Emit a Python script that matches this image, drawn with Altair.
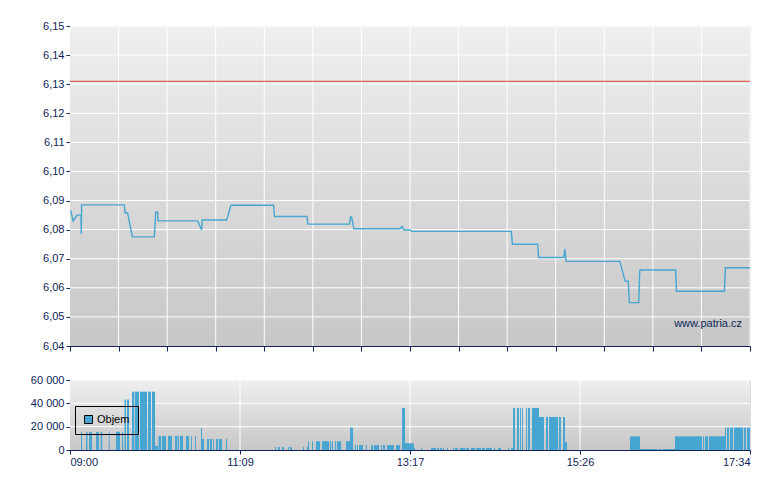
import altair as alt
import pandas as pd

NAVY = "#0f2557"
BLUE = "#47a6d1"
FONT = "Liberation Sans"

# ---- price line (minutes after 09:00, price) ----
line_min = [0, 0.6, 2.4, 5.3, 8.3, 8.5, 8.8, 41.0, 41.6, 43.6, 47.1, 63.7, 64.8, 66.3, 66.5,
            96.5, 99.5, 99.9, 118.4, 121.7, 153.9, 154.6, 179.1, 179.8, 211.3, 212.0, 212.8,
            214.6, 249.5, 251.0, 252.5, 257.0, 258.5, 333.6, 334.4, 353.5, 354.2, 373.3, 374.0,
            375.0, 415.6, 419.6, 422.0, 422.8, 429.9, 430.7, 457.8, 458.4, 494.6, 495.4, 514]
line_price = [6.0864, 6.0864, 6.0830, 6.0850, 6.0850, 6.0785, 6.0885, 6.0885, 6.0857, 6.0857,
              6.0775, 6.0775, 6.0860, 6.0860, 6.0830, 6.0830, 6.0799, 6.0833, 6.0833, 6.0884,
              6.0884, 6.0845, 6.0845, 6.0819, 6.0819, 6.0844, 6.0844, 6.0803, 6.0803, 6.0811,
              6.0799, 6.0799, 6.0794, 6.0794, 6.0750, 6.0750, 6.0704, 6.0704, 6.0734, 6.0691,
              6.0691, 6.0623, 6.0623, 6.0549, 6.0549, 6.0661, 6.0661, 6.0588, 6.0588, 6.0669,
              6.0669]
ref_price = [6.131]

# ---- volume bars (start min, end min, volume) ----
vol_start = [8.3, 12.1, 14.4, 19.7, 23.2, 29.3, 34.8, 39.3, 41.2, 43.1, 46.9, 49.1, 52.9, 59.0,
             62.0, 64.3, 66.9, 69.5, 74.1, 79.4, 81.3, 83.1, 87.7, 91.5, 94.5, 99.0, 99.8, 103.6,
             105.8, 108.1, 110.4, 112.6, 117.9, 155.0, 157.2, 160.3, 164.8, 166.3, 176.1, 179.1,
             179.9, 182.9, 185.9, 190.5, 196.5, 198.0, 200.3, 201.8, 208.6, 211.7, 215.4, 216.9,
             218.5, 223.7, 227.5, 229.8, 235.1, 236.6, 239.6, 246.4, 251.0, 253.2, 260.0, 265.3,
             272.9, 277.4, 279.7, 282.0, 285.0, 289.5, 291.0, 294.8, 299.3, 303.1, 306.9, 311.4,
             314.4, 320.5, 323.5, 331.1, 333.4, 334.9, 337.9, 340.2, 341.7, 344.7, 346.2, 349.2,
             354.5, 359.8, 362.1, 369.6, 372.7, 374.2, 423.3, 430.9, 444.5, 447.5, 457.3, 478.5,
             480.0, 483.0, 495.1, 496.6, 498.9, 501.9, 509.4, 511.7]
vol_end = [9.1, 13.2, 16.6, 21.9, 24.4, 30.0, 37.8, 40.1, 42.3, 44.6, 48.6, 52.2, 58.2, 61.2,
           64.3, 66.5, 68.8, 72.6, 77.1, 80.9, 82.4, 85.4, 90.0, 92.2, 95.2, 99.8, 101.3, 105.1,
           107.3, 108.8, 111.9, 114.9, 118.7, 155.8, 158.7, 161.8, 165.5, 167.8, 176.9, 179.9,
           180.7, 183.7, 189.0, 195.8, 197.3, 198.8, 201.1, 204.9, 211.7, 213.9, 216.2, 217.7,
           221.5, 224.5, 229.0, 233.6, 235.8, 238.1, 244.9, 249.5, 253.2, 260.0, 260.8, 266.1,
           276.7, 278.9, 281.2, 282.7, 285.7, 290.3, 293.3, 298.6, 301.6, 306.1, 310.7, 313.7,
           319.0, 321.3, 325.8, 331.8, 334.9, 336.4, 339.4, 340.9, 342.4, 345.5, 347.7, 354.5,
           358.3, 361.3, 368.9, 371.1, 374.2, 375.7, 430.9, 443.7, 446.8, 457.3, 477.7, 479.3,
           482.3, 495.1, 495.9, 498.1, 501.1, 508.7, 510.9, 514.0]
vol_value = [15600, 15600, 15600, 15600, 15600, 15600, 15600, 15600, 43300, 43300, 50000, 50000,
             50000, 50000, 50000, 3500, 12100, 12100, 12100, 12100, 12100, 12100, 12100, 12100,
             12100, 19000, 9500, 9500, 9500, 9500, 9500, 9500, 9500, 2500, 2500, 2500, 2500, 2500,
             2500, 2500, 7500, 7500, 7500, 7500, 7500, 7500, 7500, 7500, 7500, 19200, 4200, 4200,
             4200, 4200, 4200, 4200, 4200, 4200, 4200, 4200, 36000, 5800, 1700, 1700, 1700, 1700,
             1700, 1700, 1700, 1700, 1700, 1700, 1700, 1700, 1700, 1700, 1700, 1700, 1700, 1700,
             1700, 36000, 36000, 36000, 36000, 36000, 36000, 36000, 28300, 28300, 28300, 28300,
             28300, 6700, 11700, 800, 800, 800, 11700, 11700, 11700, 11700, 19200, 19200, 19200,
             19200, 19200, 19200]

# ---- ticks / labels ----
price_ticks = [6.04, 6.05, 6.06, 6.07, 6.08, 6.09, 6.10, 6.11, 6.12, 6.13, 6.14, 6.15]
top_time_ticks = [0, 36.71, 73.43, 110.14, 146.86, 183.57, 220.29, 257, 293.71, 330.43,
                  367.14, 403.86, 440.57, 477.29, 514]
time_ticks = [0, 128.5, 257, 385.5, 514]
time_labels = ["09:00", "11:09", "13:17", "15:26", "17:34"]
vol_ticks = [0, 20000, 40000, 60000]
watermark = ["www.patria.cz"]
legend_name = ["Objem"]

df_line = pd.DataFrame({"t": line_min, "p": line_price})
df_vol = pd.DataFrame({"s": vol_start, "e": vol_end, "v": vol_value, "k": legend_name * len(vol_value)})

xscale = alt.Scale(domain=[0, 514], nice=False, zero=False)
yscale = alt.Scale(domain=[6.04, 6.15], nice=False, zero=False)
vscale = alt.Scale(domain=[0, 60000], nice=False)

grad = alt.LinearGradient(gradient="linear", x1=0, y1=0, x2=0, y2=1,
                          stops=[alt.GradientStop(color="#efefef", offset=0),
                                 alt.GradientStop(color="#c7c7c7", offset=1)])

one = alt.Data(values=[{"a": 1}])

def bg():
    return alt.Chart(one).mark_rect(color=grad).encode(
        x=alt.value(0), x2=alt.value("width"), y=alt.value(0), y2=alt.value("height"))

axis_common = dict(labelFont=FONT, labelFontSize=11, labelColor=NAVY, domainColor=NAVY,
                   tickColor=NAVY, tickSize=4, labelPadding=2, grid=False, title=None)

label_expr_times = "[" + ",".join("'%s'" % s for s in time_labels) + "][round(datum.value/128.5)]"

ax_top_x = alt.Axis(values=top_time_ticks, labels=False, **{**axis_common, "tickSize": 5})
ax_top_y = alt.Axis(values=price_ticks, labelExpr="replace(format(datum.value, '.2f'), '.', ',')",
                    **axis_common)
ax_bot_x = alt.Axis(values=time_ticks, labelExpr=label_expr_times,
                    **{**axis_common, "labelPadding": 2})
ax_bot_y = alt.Axis(values=vol_ticks, labelExpr="replace(format(datum.value, ','), ',', ' ')",
                    **axis_common)

# ---- top panel ----
hgrid = alt.Chart(pd.DataFrame({"p": price_ticks[1:]})).mark_rule(color="white", strokeWidth=1).encode(
    y=alt.Y("p:Q", scale=yscale, axis=ax_top_y))
vgrid = alt.Chart(pd.DataFrame({"t": top_time_ticks[1:]})).mark_rule(color="white", strokeWidth=1).encode(
    x=alt.X("t:Q", scale=xscale, axis=ax_top_x))
red = alt.Chart(pd.DataFrame({"p": ref_price})).mark_rule(color="#e83a3a", strokeWidth=1, opacity=1).encode(
    y=alt.Y("p:Q", scale=yscale, axis=ax_top_y))
line = alt.Chart(df_line).mark_line(color=BLUE, strokeWidth=1.4).encode(
    x=alt.X("t:Q", scale=xscale, axis=ax_top_x),
    y=alt.Y("p:Q", scale=yscale, axis=ax_top_y))
wm = alt.Chart(alt.Data(values=[{"w": watermark[0]}])).mark_text(
    align="right", baseline="middle", font=FONT, fontSize=11, color=NAVY).encode(
    x=alt.value(672), y=alt.value(298), text="w:N")

top = alt.layer(bg(), hgrid, vgrid, red, line, wm).properties(width=680, height=320)

# ---- bottom panel ----
hgrid2 = alt.Chart(pd.DataFrame({"v": vol_ticks[1:]})).mark_rule(color="white", strokeWidth=1).encode(
    y=alt.Y("v:Q", scale=vscale, axis=ax_bot_y))
vgrid2 = alt.Chart(pd.DataFrame({"t": time_ticks[1:-1]})).mark_rule(color="white", strokeWidth=1).encode(
    x=alt.X("t:Q", scale=xscale, axis=ax_bot_x))
bars = alt.Chart(df_vol).mark_rect().encode(
    x=alt.X("s:Q", scale=xscale, axis=ax_bot_x),
    x2="e:Q",
    y=alt.Y("v:Q", scale=vscale, axis=ax_bot_y),
    y2=alt.datum(0),
    color=alt.Color("k:N", scale=alt.Scale(domain=legend_name, range=[BLUE]),
                    legend=alt.Legend(orient="none", legendX=5, legendY=380, title=None,
                                      symbolType="square", symbolSize=64, symbolStrokeColor="black",
                                      symbolStrokeWidth=1, symbolOpacity=1, strokeColor="black",
                                      padding=8, labelFont=FONT, labelFontSize=11,
                                      labelColor="black", labelOffset=3)))

bottom = alt.layer(bg(), hgrid2, vgrid2, bars).properties(width=680, height=70)

chart = alt.vconcat(top, bottom, spacing=21).properties(
    padding={"left": 21, "top": 11, "right": 5, "bottom": 5}
).configure_view(stroke=None).configure(background="white")

chart.save("out.html", embed_options={"renderer": "svg", "actions": False})
